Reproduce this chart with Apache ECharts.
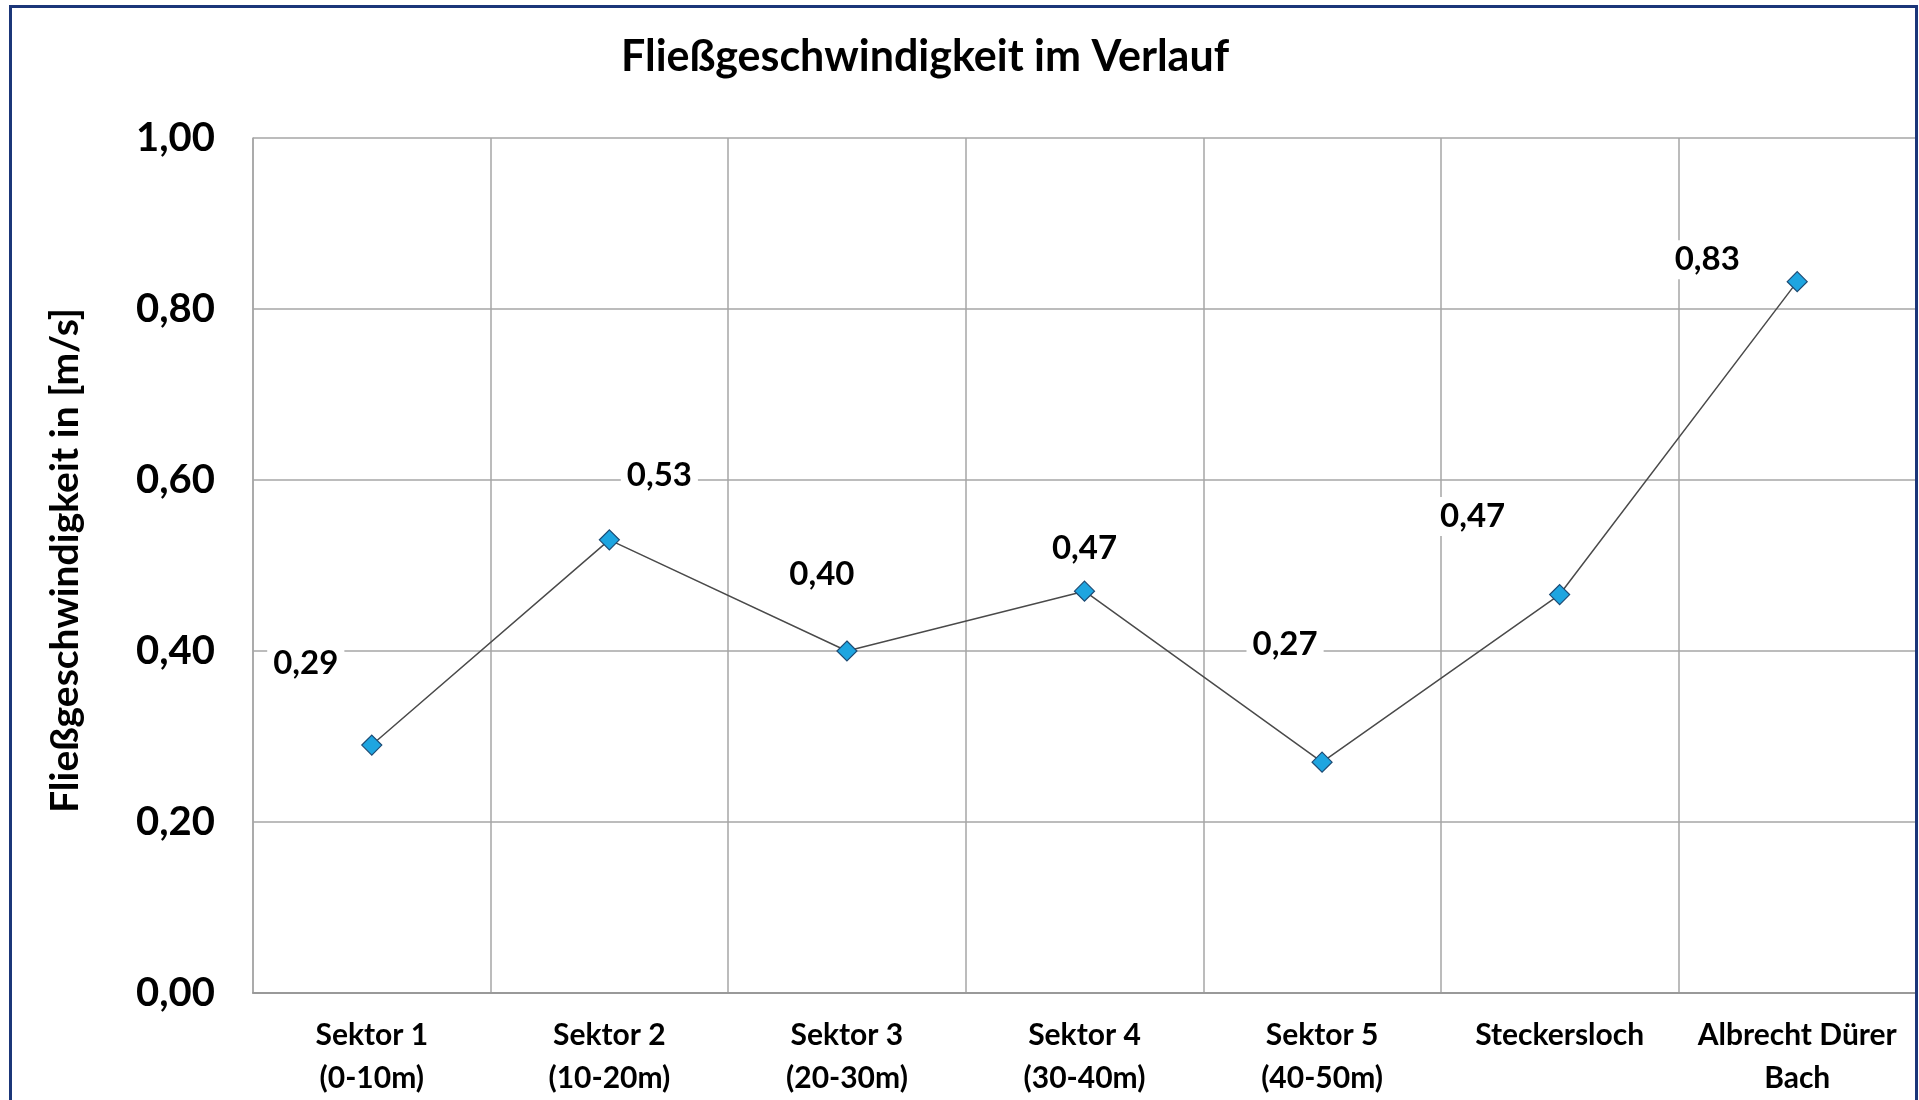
<!DOCTYPE html>
<html>
<head>
<meta charset="utf-8">
<script src="https://cdn.jsdelivr.net/npm/echarts@6/dist/echarts.min.js"></script>
<style>
html,body{margin:0;padding:0;background:#fff;}
#chart{width:1919px;height:1100px;}
</style>
</head>
<body>
<div id="chart"></div>
<script>
const categories = ['Sektor 1\n(0-10m)', 'Sektor 2\n(10-20m)', 'Sektor 3\n(20-30m)', 'Sektor 4\n(30-40m)', 'Sektor 5\n(40-50m)', 'Steckersloch', 'Albrecht Dürer\nBach'];
const velocities = [0.29, 0.53, 0.40, 0.47, 0.27, 0.466, 0.832];
const valueLabels = ['0,29', '0,53', '0,40', '0,47', '0,27', '0,47', '0,83'];
const yTicks = [0, 0.2, 0.4, 0.6, 0.8, 1.0];
const labelOffsets = [[-66, -82], [50, -64], [-25, -77], [0, -43], [-37, -118], [-87, -78], [-90, -22]];

const FONT = 'Lato, "Open Sans", sans-serif';
const chart = echarts.init(document.getElementById('chart'));
chart.setOption({
  backgroundColor: '#fff',
  animation: false,
  title: {
    text: 'Fließgeschwindigkeit im Verlauf',
    left: 621, top: 36, padding: 0,
    textStyle: { fontFamily: FONT, fontWeight: 'bold', fontSize: 43, color: '#000' }
  },
  graphic: [{
    type: 'rect', silent: true, z: 100,
    shape: { x: 10.5, y: 6.5, width: 1906, height: 1120 },
    style: { fill: 'none', stroke: '#1b3679', lineWidth: 3 }
  }],
  grid: { left: 253, right: 3, top: 138, bottom: 106, containLabel: false },
  xAxis: {
    type: 'category',
    data: categories,
    boundaryGap: true,
    axisLine: { show: true, lineStyle: { color: '#999', width: 2 } },
    axisTick: { show: false },
    splitLine: { show: true, lineStyle: { color: '#a6a6a6', width: 1.5 } },
    axisLabel: {
      interval: 0, margin: 21,
      fontFamily: FONT, fontWeight: 'bold', fontSize: 30, lineHeight: 43, color: '#000'
    }
  },
  yAxis: {
    type: 'value',
    min: 0, max: 1, interval: 0.2,
    name: 'Fließgeschwindigkeit in [m/s]',
    nameLocation: 'middle', nameRotate: 90, nameGap: 168,
    nameTextStyle: { fontFamily: FONT, fontWeight: 'bold', fontSize: 39, color: '#000', padding: [0, 0, 0, 10] },
    axisLine: { show: true, lineStyle: { color: '#a6a6a6', width: 1.5 } },
    axisTick: { show: false },
    splitLine: { show: true, lineStyle: { color: '#a6a6a6', width: 1.5 } },
    axisLabel: {
      margin: 38,
      fontFamily: FONT, fontWeight: 'bold', fontSize: 40, color: '#000',
      formatter: v => v.toFixed(2).replace('.', ',')
    }
  },
  series: [{
    type: 'line',
    data: velocities.map((v, i) => ({
      value: v,
      label: { offset: labelOffsets[i], formatter: valueLabels[i] }
    })),
    symbol: 'diamond',
    symbolSize: 20,
    lineStyle: { color: '#4a4a4a', width: 1.5 },
    itemStyle: { color: '#1ea5e0', borderColor: '#1d4a73', borderWidth: 1.2 },
    label: {
      show: true, position: 'inside',
      fontFamily: FONT, fontWeight: 'bold', fontSize: 33, color: '#000',
      backgroundColor: '#fff', padding: [3, 6]
    },
    z: 5
  }]
});
</script>
</body>
</html>
